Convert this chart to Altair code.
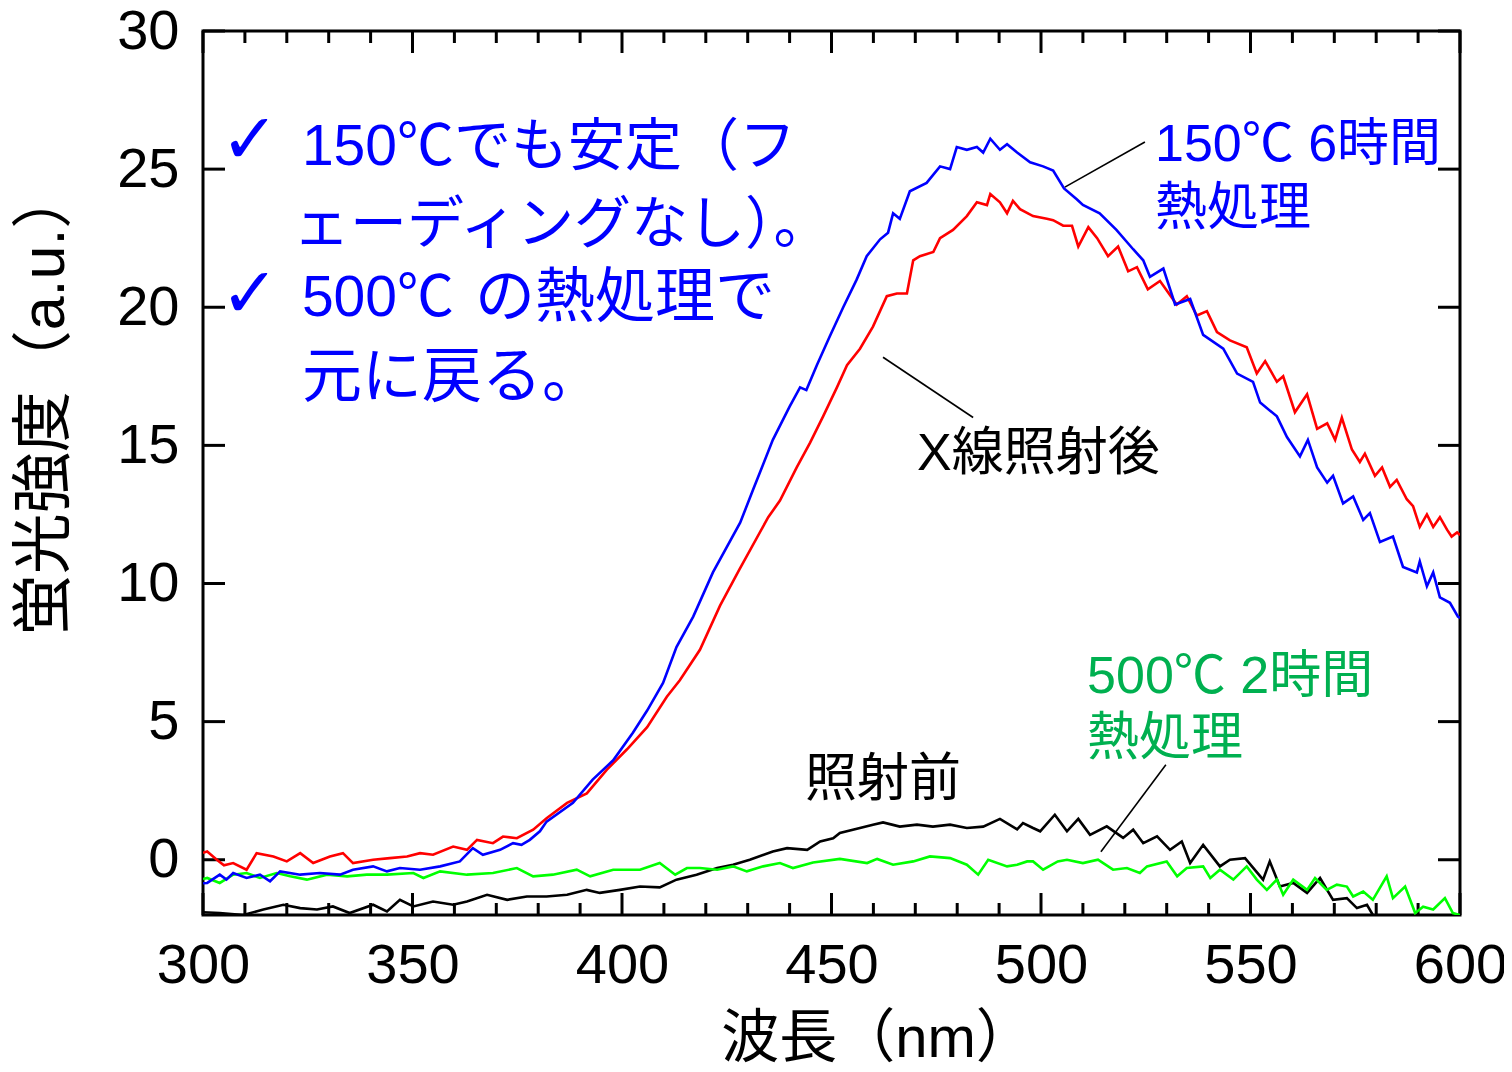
import altair as alt
import pandas as pd

# ---------------- data ----------------
black_x = [300, 304, 309.6, 314.4, 319.2, 323.2, 327.2, 331, 335, 340.6, 343.9, 347, 350.2, 354.9,
           359.7, 363, 367.8, 372.6, 377.3, 382, 386.9, 391.6, 394.7, 399.5, 404.3, 409, 413,
           417.8, 422.7, 426.5, 430.5, 436, 439.4, 444.2, 447.3, 450.4, 452, 455.1, 459.9, 462.3,
           466.3, 470.4, 474.2, 478.3, 482.3, 486.2, 490.2, 494.3, 495.7, 498.1, 499.8, 503.3,
           506.2, 508.9, 511.7, 515.7, 519.6, 522, 524.4, 527.7, 530.8, 533.6, 535.6, 538.7,
           542.7, 545.1, 548.7, 553, 554.6, 557, 560.2, 563.5, 566.6, 569.7, 573, 575.4, 577.8,
           579.2, 581, 584, 587, 590, 595, 600]
black_y = [-1.9, -1.93, -2.0, -1.8, -1.63, -1.75, -1.8, -1.69, -1.93, -1.63, -1.87, -1.45, -1.69, -1.51,
           -1.63, -1.51, -1.27, -1.45, -1.33, -1.33, -1.27, -1.09, -1.2, -1.09, -0.97, -1.0, -0.72,
           -0.54, -0.3, -0.18, 0.0, 0.3, 0.42, 0.36, 0.66, 0.78, 0.97, 1.09, 1.27, 1.35,
           1.2, 1.27, 1.2, 1.27, 1.15, 1.2, 1.48, 1.1, 1.33, 1.15, 1.03, 1.63,
           1.03, 1.48, 0.9, 1.21, 0.79, 1.09, 0.6, 0.85, 0.36, 0.66, -0.12, 0.54,
           -0.24, 0.0, 0.06, -0.72, -0.06, -0.97, -0.84, -1.2, -0.66, -1.45, -1.39, -1.75, -1.63,
           -2.0, -2.4, -2.2, -2.5, -2.3, -2.6, -2.5]

green_x = [300, 301, 304, 307.2, 310.4, 313.6, 317.6, 320.8, 324.8, 329.6, 334.4, 339.1, 343.9, 350.2,
           352.6, 356.6, 363, 369.2, 374.9, 378.8, 383.5, 389.2, 392.4, 397.9, 399.5, 404.3, 409,
           412.7, 415.5, 418.6, 422.7, 426.5, 429.8, 433.7, 437.7, 440.8, 445.6, 452, 458.5, 460.9,
           464.7, 469.5, 473.5, 478.3, 482.3, 485, 487.4, 491.9, 494.3, 496.7, 498.1, 500.5, 504,
           506.2, 510, 513.6, 517.2, 520.5, 523.6, 525.3, 530, 532.5, 534.8, 538.7, 540.4, 542.7,
           545.9, 549.1, 551.5, 553.9, 556.3, 557.8, 560.2, 563.5, 565.4, 568.2, 570.6, 573, 574.5,
           576.9, 579.2, 582.5, 584, 586.9, 589.3, 591.2, 593.6, 596.4, 598.3, 600]
green_y = [-0.7, -0.66, -0.84, -0.54, -0.48, -0.66, -0.48, -0.6, -0.72, -0.54, -0.6, -0.54, -0.54, -0.48,
           -0.66, -0.42, -0.54, -0.48, -0.3, -0.6, -0.54, -0.36, -0.6, -0.36, -0.36, -0.36, -0.12,
           -0.54, -0.3, -0.3, -0.36, -0.24, -0.42, -0.24, -0.12, -0.3, -0.1, 0.03, -0.12, 0.03,
           -0.18, -0.06, 0.12, 0.06, -0.18, -0.54, 0.0, -0.24, -0.18, -0.06, -0.06, -0.36, -0.06,
           0.0, -0.12, 0.0, -0.36, -0.3, -0.48, -0.24, -0.06, -0.6, -0.3, -0.24, -0.66, -0.36,
           -0.72, -0.24, -0.72, -1.09, -0.72, -1.27, -0.72, -1.09, -0.66, -1.09, -0.9, -0.97, -1.33,
           -1.15, -1.45, -0.6, -1.39, -0.97, -1.93, -1.7, -1.8, -1.39, -1.93, -2.0]

red_x = [300, 301, 303.3, 305, 307.2, 310.4, 312.8, 316.8, 320, 323.2, 326.3, 330.3, 333.4, 335.8,
         340.6, 344.6, 348.7, 351.8, 354.9, 359.7, 363, 365.4, 369.2, 371.6, 374.9, 378.8, 382,
         386.9, 391.6, 396.4, 401.2, 406, 410.7, 413.8, 418.6, 423.4, 428, 434.9, 437.7, 441.7,
         444.9, 448, 451.3, 453.7, 456.8, 459.9, 463.2, 465.6, 468, 469.5, 471.1, 474.3, 475.9,
         479, 482.3, 484.7, 487.1, 487.9, 490.2, 491.9, 493.3, 495, 498.1, 501.4, 502.9, 505.3,
         507.4, 508.9, 511.3, 513.4, 516, 518.4, 520.8, 522.9, 525.5, 528.4, 532.4, 534.8, 537.2,
         539.6, 542, 545.1, 549.1, 551.5, 553.5, 556.3, 557.8, 560.6, 563.5, 565.9, 568.3, 570.2,
         571.8, 574.2, 576.1, 577.3, 579.7, 581.4, 583.3, 584.9, 587.3, 588.8, 590.4, 592.1, 593.6,
         595.2, 596.9, 598, 599.3, 600]
red_y = [0.25, 0.3, 0.0, -0.2, -0.12, -0.36, 0.24, 0.12, -0.06, 0.24, -0.12, 0.12, 0.24, -0.12,
         0.0, 0.06, 0.12, 0.24, 0.18, 0.48, 0.36, 0.72, 0.6, 0.84, 0.78, 1.09, 1.5,
         2.06, 2.4, 3.26, 4.0, 4.8, 5.9, 6.5, 7.6, 9.2, 10.5, 12.4, 13.0, 14.2,
         15.1, 16.05, 17.1, 17.9, 18.5, 19.3, 20.4, 20.5, 20.5, 21.7, 21.85, 22.0, 22.5,
         22.8, 23.3, 23.8, 23.7, 24.1, 23.8, 23.4, 23.85, 23.55, 23.3, 23.2, 23.15, 22.95,
         22.95, 22.2, 22.9, 22.5, 21.85, 22.2, 21.3, 21.45, 20.65, 20.95, 20.1, 20.4, 19.7,
         19.86, 19.1, 18.8, 18.55, 17.6, 18.05, 17.3, 17.5, 16.2, 16.85, 15.6, 15.8, 15.2,
         16.0, 14.85, 14.4, 14.7, 13.9, 14.2, 13.5, 13.75, 13.05, 12.8, 12.05, 12.5, 12.05,
         12.4, 11.95, 11.7, 11.85, 11.75]

blue_x = [300, 301, 304, 305.6, 307.2, 310.4, 313.6, 316, 318.4, 323.2, 327.9, 332.7, 335.8, 340.6,
          343.9, 347, 351.8, 356.6, 361.3, 364.4, 366.8, 370.9, 374, 376, 378, 380.4, 382,
          388.3, 393, 397.9, 402.6, 406, 409.8, 413, 417, 421.7, 428.2, 431.3, 436, 440, 442.5,
          444, 446.5, 449.6, 452.8, 456, 458.4, 461.6, 463.5, 464.7, 466.3, 468.7, 472.7, 475.9,
          478.3, 479.9, 482.3, 484.7, 486.2, 487.9, 490.2, 491.9, 494.3, 497.4, 500.5, 502.9,
          505.5, 508.6, 510, 514, 518, 522, 524.4, 526, 529.2, 532, 535.6, 538.7, 543.5, 546.8,
          550.6, 552.3, 556.3, 558.7, 561.8, 563.7, 565.9, 568.3, 569.7, 572.1, 574.5, 576.9,
          578.5, 580.9, 584, 586.4, 589.7, 590.4, 592.1, 593.6, 595.2, 597.6, 599.5, 600]
blue_y = [-0.85, -0.84, -0.54, -0.72, -0.48, -0.66, -0.54, -0.78, -0.42, -0.54, -0.48, -0.54, -0.36, -0.24,
          -0.42, -0.3, -0.36, -0.24, -0.06, 0.42, 0.18, 0.36, 0.6, 0.54, 0.72, 1.03, 1.38,
          2.06, 2.9, 3.6, 4.6, 5.4, 6.4, 7.7, 8.8, 10.4, 12.2, 13.4, 15.2, 16.4, 17.1,
          17.0, 17.9, 18.95, 20.0, 21.0, 21.85, 22.46, 22.7, 23.4, 23.2, 24.2, 24.5, 25.1,
          25.0, 25.8, 25.7, 25.8, 25.6, 26.1, 25.7, 25.9, 25.6, 25.25, 25.1, 24.95,
          24.3, 23.9, 23.7, 23.4, 22.8, 22.1, 21.7, 21.1, 21.4, 20.1, 20.3, 19.0, 18.5, 17.6,
          17.3, 16.55, 16.05, 15.3, 14.6, 15.2, 14.2, 13.65, 13.9, 12.9, 13.15, 12.3,
          12.55, 11.5, 11.7, 10.6, 10.4, 10.8, 9.9, 10.4, 9.5, 9.3, 8.8, 8.75]

x_major = [300, 350, 400, 450, 500, 550, 600]
x_minor = [310, 320, 330, 340, 360, 370, 380, 390, 410, 420, 430, 440, 460, 470, 480, 490,
           510, 520, 530, 540, 560, 570, 580, 590]
y_major = [0, 5, 10, 15, 20, 25, 30]

# annotation texts (position in data units)
note_text = ["150℃でも安定（フ", "ェーディングなし）。", "500℃", "の熱処理で", "元に戻る。",
             "150℃ 6時間", "熱処理", "X線照射後", "照射前", "500℃ 2時間", "熱処理"]
note_wl = [323.6, 321.5, 323.6, 364.9, 323.6, 527.2, 527.2, 470.4, 443.7, 511.0, 511.0]
note_val = [25.77, 22.95, 20.31, 20.31, 17.42, 25.88, 23.55, 14.7, 2.9, 6.62, 4.37]
note_color = ["#0000FF"] * 7 + ["#000000", "#000000", "#00B050", "#00B050"]
note_size = [57, 57, 57, 60, 60, 52, 52, 52, 52, 52, 52]

check_wl = [311.2, 311.2]
check_val = [26.0, 20.4]

leader_wl = [505.7, 462.3, 514.3]
leader_val = [24.35, 18.19, 0.29]
leader_wl2 = [524.8, 483.8, 529.8]
leader_val2 = [25.98, 16.01, 3.44]

# ---------------- chart ----------------
W, H = 1257, 884
FONT = "Liberation Sans, Arial, Noto Sans CJK JP, sans-serif"
JFONT = "Liberation Sans, Arial, Noto Sans CJK JP, DejaVu Sans, sans-serif"

xs = alt.Scale(domain=[300, 600], nice=False, zero=False)
ys = alt.Scale(domain=[-2, 30], nice=False, zero=False)

x_axis = alt.Axis(values=x_major, ticks=False, tickSize=0, domain=False, grid=False,
                  labelFontSize=56, labelFont=FONT, labelColor="black", labelPadding=23,
                  labelFlush=False, labelOverlap=False,
                  title="波長（nm）", titleFont=JFONT, titleFontSize=58, titleFontWeight="normal",
                  titleColor="black", titleX=674, titleY=124, titleBaseline="middle",
                  titleAlign="center")
y_axis = alt.Axis(values=y_major, ticks=False, tickSize=0, domain=False, grid=False,
                  labelFontSize=56, labelFont=FONT, labelColor="black", labelPadding=24,
                  labelFlush=False, labelOverlap=False,
                  title="蛍光強度（a.u.）", titleFont=JFONT, titleFontSize=61, titleFontWeight="normal",
                  titleColor="black", titleAngle=270, titleX=-158, titleY=370,
                  titleBaseline="middle", titleAlign="center")


def series(xv, yv, color, axes=False):
    d = pd.DataFrame({"wl": xv, "val": yv})
    if axes:
        enc = dict(x=alt.X("wl:Q", scale=xs, axis=x_axis), y=alt.Y("val:Q", scale=ys, axis=y_axis))
    else:
        enc = dict(x=alt.X("wl:Q", scale=xs), y=alt.Y("val:Q", scale=ys))
    return alt.Chart(d).mark_line(color=color, strokeWidth=2.6, clip=True).encode(**enc)


black_l = series(black_x, black_y, "#000000", axes=True)
green_l = series(green_x, green_y, "#00FF00")
red_l = series(red_x, red_y, "#FF0000")
blue_l = series(blue_x, blue_y, "#0000FF")

xmaj = pd.DataFrame({"wl": x_major})
xmin = pd.DataFrame({"wl": x_minor})
ymaj = pd.DataFrame({"val": y_major})

tick_style = dict(color="black", strokeWidth=3)
ticks = [
    alt.Chart(xmaj).mark_rule(**tick_style).encode(x=alt.X("wl:Q", scale=xs), y=alt.value(H), y2=alt.value(H - 22)),
    alt.Chart(xmaj).mark_rule(**tick_style).encode(x=alt.X("wl:Q", scale=xs), y=alt.value(0), y2=alt.value(22)),
    alt.Chart(xmin).mark_rule(**tick_style).encode(x=alt.X("wl:Q", scale=xs), y=alt.value(H), y2=alt.value(H - 12)),
    alt.Chart(xmin).mark_rule(**tick_style).encode(x=alt.X("wl:Q", scale=xs), y=alt.value(0), y2=alt.value(12)),
    alt.Chart(ymaj).mark_rule(**tick_style).encode(y=alt.Y("val:Q", scale=ys), x=alt.value(0), x2=alt.value(22)),
    alt.Chart(ymaj).mark_rule(**tick_style).encode(y=alt.Y("val:Q", scale=ys), x=alt.value(W), x2=alt.value(W - 22)),
]

leaders = alt.Chart(pd.DataFrame({"wl": leader_wl, "val": leader_val,
                                  "wl2": leader_wl2, "val2": leader_val2})).mark_rule(
    color="black", strokeWidth=1.6).encode(
    x=alt.X("wl:Q", scale=xs), y=alt.Y("val:Q", scale=ys), x2="wl2:Q", y2="val2:Q")

notes = alt.Chart(pd.DataFrame({"wl": note_wl, "val": note_val, "t": note_text,
                                "c": note_color, "fs": note_size})).mark_text(
    font=JFONT, align="left", baseline="middle").encode(
    x=alt.X("wl:Q", scale=xs), y=alt.Y("val:Q", scale=ys), text="t:N",
    color=alt.Color("c:N", scale=None), size=alt.Size("fs:Q", scale=None))

checks = alt.Chart(pd.DataFrame({"wl": check_wl, "val": check_val, "t": ["✓", "✓"]})).mark_text(
    font="DejaVu Sans", fontSize=70, fontWeight="bold", align="center", baseline="middle",
    color="#0000FF").encode(
    x=alt.X("wl:Q", scale=xs), y=alt.Y("val:Q", scale=ys), text="t:N")

chart = alt.layer(black_l, *ticks, green_l, red_l, blue_l, leaders, notes, checks).properties(
    width=W, height=H,
    autosize=alt.AutoSizeParams(type="none"),
    padding={"left": 195, "top": 23, "right": 44, "bottom": 149},
    background="white",
).configure_view(stroke="black", strokeWidth=3)

chart.save("out.html", embed_options={"renderer": "svg", "actions": False})
